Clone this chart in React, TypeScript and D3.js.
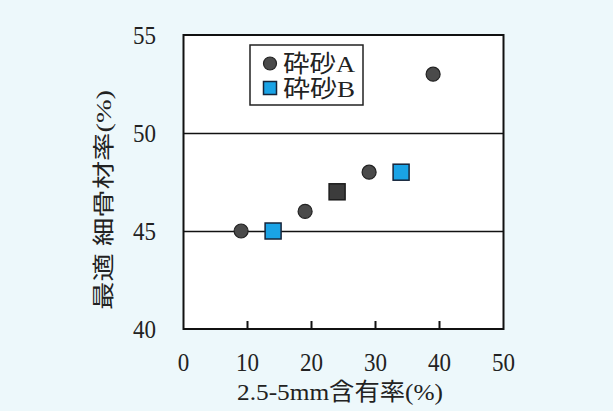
import React from "react";
import * as d3 from "d3";

const seriesAX = [9, 19, 29, 39];
const seriesAY = [45, 46, 48, 53];
const seriesBX = [14, 34];
const seriesBY = [45, 48];
const sharedX = [24];
const sharedY = [47];
const xTicks = [0, 10, 20, 30, 40, 50];
const yTicks = [40, 45, 50, 55];
const gridValues = [45, 50];
const legendLabels = ["砕砂A", "砕砂B"];
const xTitle = "2.5-5mm含有率(%)";
const yTitle = "最適 細骨材率(%)";

const W = 613;
const H = 411;
const PL = 183.5, PR = 503.5, PT = 35, PB = 329;
const serif = "'Liberation Serif', 'DejaVu Serif', 'Noto Sans CJK JP', serif";

export default function App() {
  const x = d3.scaleLinear().domain([0, 50]).range([PL, PR]);
  const y = d3.scaleLinear().domain([40, 55]).range([PB, PT]);
  const r = 7;
  const sq = 16;
  return (
    <div style={{ position: "fixed", left: 0, top: 0 }}>
      <svg width={W} height={H} style={{ display: "block" }}>
        <rect x={0} y={0} width={W} height={H} fill="#edf8fb" />
        <rect x={PL} y={PT} width={PR - PL} height={PB - PT} fill="#ffffff" />
        {gridValues.map((v) => (
          <line key={v} x1={PL} x2={PR} y1={Math.round(y(v)) + 0.5} y2={Math.round(y(v)) + 0.5} stroke="#111" strokeWidth={1.3} />
        ))}
        {xTicks.filter((t) => t > 0 && t < 50).map((t) => (
          <line key={t} x1={x(t)} x2={x(t)} y1={PB} y2={PB - 8} stroke="#111" strokeWidth={2} />
        ))}
        <rect x={PL} y={PT} width={PR - PL} height={PB - PT} fill="none" stroke="#111" strokeWidth={2} />
        {xTicks.map((t) => (
          <text key={t} x={x(t)} y={371} textAnchor="middle" fontFamily={serif} fontSize={25} fill="#222"
            textLength={String(t).length * 11.5} lengthAdjust="spacingAndGlyphs">{t}</text>
        ))}
        {yTicks.map((t) => (
          <text key={t} x={156} y={y(t)} dy="0.35em" textAnchor="end" fontFamily={serif} fontSize={25} fill="#222"
            textLength={23} lengthAdjust="spacingAndGlyphs">{t}</text>
        ))}
        <text x={340} y={400} textAnchor="middle" fontFamily={serif} fontSize={24} fill="#222"
          textLength={206} lengthAdjust="spacingAndGlyphs">{xTitle}</text>
        <text transform="translate(111,200) rotate(-90)" textAnchor="middle" fontFamily={serif} fontSize={22} fill="#222"
          textLength={220} lengthAdjust="spacingAndGlyphs">{yTitle}</text>
        {/* legend */}
        <rect x={250} y={45} width={113} height={60} fill="#fff" stroke="#222" strokeWidth={1.5} />
        <circle cx={270} cy={63.5} r={6.5} fill="#4a4a4a" stroke="#222" strokeWidth={1.2} />
        <rect x={263.5} y={81.5} width={13} height={13} fill="#1aa3e6" stroke="#16243a" strokeWidth={1.5} />
        <text x={283} y={63.5} dy="0.36em" fontFamily={serif} fontSize={24} fill="#222"
          textLength={72} lengthAdjust="spacingAndGlyphs">{legendLabels[0]}</text>
        <text x={283} y={88} dy="0.36em" fontFamily={serif} fontSize={24} fill="#222"
          textLength={72} lengthAdjust="spacingAndGlyphs">{legendLabels[1]}</text>
        {seriesAX.map((v, i) => (
          <circle key={"a" + i} cx={x(v)} cy={y(seriesAY[i])} r={r} fill="#4a4a4a" stroke="#222" strokeWidth={1.2} />
        ))}
        {seriesBX.map((v, i) => (
          <rect key={"b" + i} x={x(v) - sq / 2} y={y(seriesBY[i]) - sq / 2} width={sq} height={sq} fill="#1aa3e6" stroke="#16243a" strokeWidth={1.5} />
        ))}
        {sharedX.map((v, i) => (
          <rect key={"s" + i} x={x(v) - sq / 2} y={y(sharedY[i]) - sq / 2} width={sq} height={sq} fill="#3c3c3c" stroke="#1c1c1c" strokeWidth={1.5} />
        ))}
      </svg>
    </div>
  );
}
